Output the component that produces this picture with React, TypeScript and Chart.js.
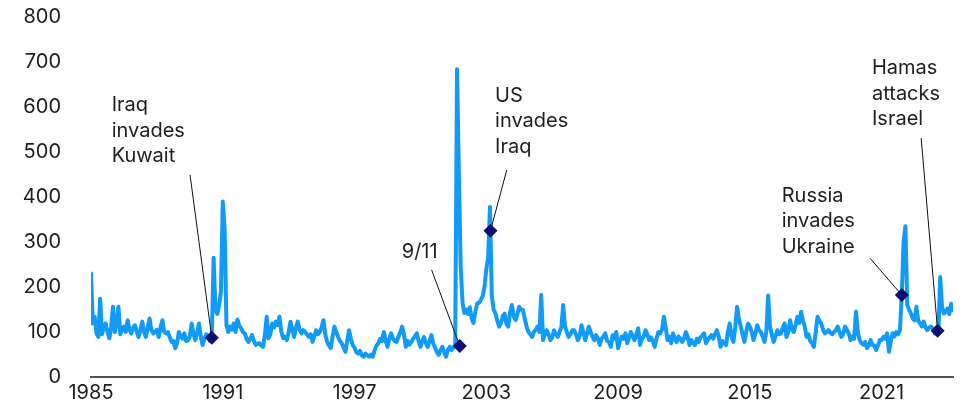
import React, { useEffect, useRef } from "react";
import { Chart, registerables } from "chart.js";

Chart.register(...registerables);

// ---------- data ----------
const START_YEAR = 1985;

// Geopolitical risk index, monthly, Jan 1985 - Apr 2024
const gprIndex: number[] = [
  // 1985
  230, 119, 134, 97, 89, 174, 95, 110, 119, 100, 86, 110,
  // 1986
  156, 100, 120, 156, 95, 105, 112, 100, 126, 105, 97, 110,
  // 1987
  115, 100, 89, 105, 123, 100, 89, 110, 130, 105, 97, 100,
  // 1988
  105, 89, 110, 126, 100, 97, 100, 89, 78, 80, 64, 75,
  // 1989
  100, 90, 85, 97, 80, 82, 90, 119, 95, 82, 100, 119,
  // 1990
  90, 71, 85, 95, 89, 80, 87, 265, 150, 140, 160, 190,
  // 1991
  390, 330, 115, 100, 112, 105, 119, 100, 128, 115, 108, 100,
  // 1992
  97, 85, 78, 85, 93, 80, 71, 74, 75, 70, 67, 93,
  // 1993
  134, 86, 95, 119, 110, 123, 115, 134, 100, 86, 90, 82,
  // 1994
  100, 123, 105, 89, 110, 123, 105, 97, 104, 100, 95, 89,
  // 1995
  95, 78, 90, 104, 95, 100, 110, 126, 95, 78, 70, 64,
  // 1996
  90, 112, 100, 89, 80, 75, 65, 56, 80, 104, 85, 71,
  // 1997
  65, 55, 52, 58, 48, 45, 52, 48, 45, 50, 45, 60,
  // 1998
  70, 75, 85, 80, 100, 80, 67, 85, 97, 85, 80, 78,
  // 1999
  90, 100, 112, 95, 67, 80, 72, 78, 85, 90, 97, 80,
  // 2000
  67, 80, 89, 75, 67, 80, 93, 75, 65, 55, 49, 60,
  // 2001
  67, 55, 45, 60, 67, 60, 65, 70, 684, 450, 245, 165,
  // 2002
  142, 150, 140, 155, 130, 120, 145, 163, 165, 171, 180, 200,
  // 2003
  240, 265, 378, 180, 150, 141, 125, 112, 120, 135, 141, 118,
  // 2004
  112, 145, 160, 135, 127, 140, 156, 150, 149, 130, 112, 100,
  // 2005
  95, 89, 100, 105, 112, 100, 182, 82, 95, 104, 95, 82,
  // 2006
  88, 104, 95, 89, 100, 110, 160, 112, 100, 89, 95, 104,
  // 2007
  104, 95, 82, 90, 115, 100, 82, 95, 112, 100, 90, 82,
  // 2008
  93, 85, 71, 85, 90, 97, 80, 78, 67, 93, 85, 100,
  // 2009
  64, 80, 90, 85, 97, 75, 88, 100, 90, 82, 95, 108,
  // 2010
  71, 85, 90, 104, 95, 82, 88, 80, 67, 85, 100, 97,
  // 2011
  105, 134, 110, 82, 90, 75, 97, 85, 78, 90, 85, 78,
  // 2012
  85, 100, 90, 71, 82, 75, 71, 85, 78, 88, 92, 97,
  // 2013
  75, 82, 88, 93, 85, 95, 104, 90, 67, 80, 75, 71,
  // 2014
  100, 119, 90, 78, 110, 156, 130, 112, 95, 78, 100, 119,
  // 2015
  112, 100, 82, 95, 115, 105, 100, 90, 78, 100, 181, 112,
  // 2016
  95, 78, 90, 104, 95, 97, 110, 119, 89, 100, 126, 105,
  // 2017
  100, 115, 134, 120, 145, 125, 112, 89, 95, 80, 75, 67,
  // 2018
  100, 134, 125, 119, 105, 97, 100, 104, 98, 95, 100, 104,
  // 2019
  112, 100, 89, 95, 112, 105, 97, 82, 90, 85, 145, 100,
  // 2020
  82, 75, 72, 78, 64, 70, 82, 71, 70, 60, 70, 82,
  // 2021
  82, 89, 85, 97, 56, 80, 97, 90, 100, 95, 104, 182,
  // 2022
  300, 335, 160, 150, 141, 130, 126, 156, 125, 119, 112, 123,
  // 2023
  110, 104, 110, 112, 108, 97, 100, 95, 222, 156, 141, 145,
  // 2024
  152, 140, 163, 149,
];

const xTickYears = [1985, 1991, 1997, 2003, 2009, 2015, 2021];
const yTickMin = 0;
const yTickMax = 800;
const yTickStep = 100;

// events
const eventNames: string[][] = [
  ["Iraq", "invades", "Kuwait"],
  ["9/11"],
  ["US", "invades", "Iraq"],
  ["Russia", "invades", "Ukraine"],
  ["Hamas", "attacks", "Israel"],
];
const eventDates = [1990.5, 2001.79, 2003.19, 2021.92, 2023.55];
const eventValues = [87, 69, 325, 182, 103];

// ---------- layout / style ----------
// label anchor (left edge, first baseline) and leader-line start, in axis units
const labelAnchors = [
  { x: 1985.94, y: 591 },
  { x: 1999.15, y: 264 },
  { x: 2003.4, y: 612 },
  { x: 2016.45, y: 389 },
  { x: 2020.56, y: 673 },
];
const leaderStarts = [
  { x: 1989.51, y: 449 },
  { x: 2000.51, y: 238 },
  { x: 2003.93, y: 460 },
  { x: 2020.47, y: 264 },
  { x: 2022.8, y: 531 },
];

const FONT = 'Inter, "Noto Sans", sans-serif';
const FONT_SIZE = 20;
const TEXT_COLOR = "#1e1e1e";
const LINE_COLOR = "#0f9bf7";
const DIAMOND_COLOR = "#0a0e6e";
const LINE_HEIGHT = 25.5;

const annotationPlugin = {
  id: "eventAnnotations",
  afterDatasetDraw(chart: any, args: any) {
    if (args.index !== 1) return; // after the line, before the diamonds
    const { ctx, scales } = chart;
    const xs = scales.x;
    const ys = scales.y;
    ctx.save();
    ctx.strokeStyle = "#111";
    ctx.lineWidth = 1;
    eventNames.forEach((_, i) => {
      ctx.beginPath();
      ctx.moveTo(xs.getPixelForValue(leaderStarts[i].x), ys.getPixelForValue(leaderStarts[i].y));
      ctx.lineTo(xs.getPixelForValue(eventDates[i]), ys.getPixelForValue(eventValues[i]));
      ctx.stroke();
    });
    ctx.restore();
  },
  afterDraw(chart: any) {
    const { ctx, scales } = chart;
    const xs = scales.x;
    const ys = scales.y;
    ctx.save();
    ctx.font = `${FONT_SIZE}px ${FONT}`;
    ctx.fillStyle = TEXT_COLOR;
    ctx.textAlign = "left";
    ctx.textBaseline = "alphabetic";
    eventNames.forEach((lines, i) => {
      const lx = xs.getPixelForValue(labelAnchors[i].x);
      const ly = ys.getPixelForValue(labelAnchors[i].y);
      lines.forEach((t, j) => ctx.fillText(t, lx, ly + j * LINE_HEIGHT));
    });
    ctx.restore();
  },
};

export default function App() {
  const canvasRef = useRef<HTMLCanvasElement | null>(null);

  useEffect(() => {
    const canvas = canvasRef.current;
    if (!canvas) return;

    const linePoints = gprIndex.map((v, i) => ({ x: START_YEAR + i / 12, y: v }));
    const diamondPoints = eventDates.map((d, i) => ({ x: d, y: eventValues[i] }));
    const xMax = START_YEAR + (gprIndex.length - 1) / 12;

    const chart = new Chart(canvas, {
      type: "line",
      data: {
        datasets: [
          {
            type: "scatter",
            data: diamondPoints,
            pointStyle: "rectRot",
            pointRadius: 7,
            backgroundColor: DIAMOND_COLOR,
            borderColor: DIAMOND_COLOR,
            borderWidth: 0,
            order: 0,
          } as any,
          {
            type: "line",
            data: linePoints,
            borderColor: LINE_COLOR,
            borderWidth: 4,
            pointRadius: 0,
            tension: 0,
            borderJoinStyle: "round",
            borderCapStyle: "round",
            order: 1,
          } as any,
        ],
      },
      options: {
        animation: false,
        responsive: false,
        maintainAspectRatio: false,
        layout: { padding: { top: 17, right: 8, bottom: 0, left: 0 } },
        plugins: {
          legend: { display: false },
          tooltip: { enabled: false },
        },
        scales: {
          x: {
            type: "linear",
            min: START_YEAR,
            max: xMax,
            grid: { display: false, drawTicks: false },
            border: { display: true, color: "#555", width: 2 },
            afterBuildTicks: (s: any) => {
              s.ticks = xTickYears.map((v) => ({ value: v }));
            },
            afterFit: (s: any) => {
              s.height = 30;
              s.paddingLeft = 0;
              s.paddingRight = 0;
            },
            ticks: {
              autoSkip: false,
              maxRotation: 0,
              padding: 4,
              color: TEXT_COLOR,
              font: { family: FONT, size: FONT_SIZE },
              callback: (v: any) => String(v),
            },
          },
          y: {
            type: "linear",
            min: yTickMin,
            max: yTickMax,
            grid: { display: false, drawTicks: false },
            border: { display: false },
            afterFit: (s: any) => {
              s.width = 91;
              s.paddingTop = 0;
              s.paddingBottom = 0;
            },
            ticks: {
              stepSize: yTickStep,
              padding: 30,
              color: TEXT_COLOR,
              font: { family: FONT, size: FONT_SIZE },
              callback: (v: any) => String(v),
            },
          },
        },
      },
      plugins: [annotationPlugin],
    });

    return () => chart.destroy();
  }, []);

  return (
    <div style={{ position: "absolute", left: 0, top: 0, width: 961, height: 407, background: "#fff" }}>
      <canvas ref={canvasRef} width={961} height={407} style={{ display: "block" }} />
    </div>
  );
}
